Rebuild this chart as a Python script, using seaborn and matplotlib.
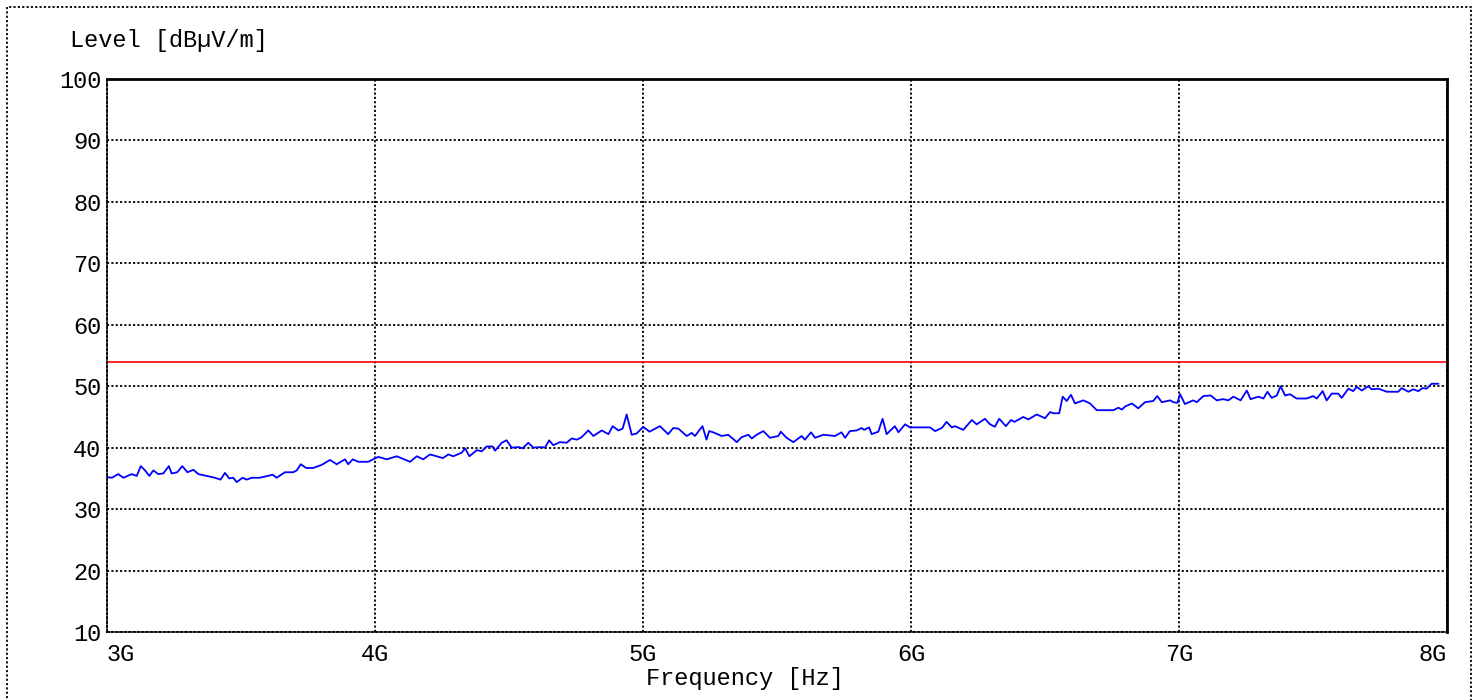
import matplotlib
matplotlib.use("Agg")
import matplotlib.pyplot as plt
import matplotlib.patches as patches
import seaborn as sns
import pandas as pd

# trace: frequency in GHz, level in dBuV/m
freq_ghz = [
    3.000, 3.018, 3.042, 3.061, 3.092, 3.111, 3.126, 3.142, 3.158, 3.173,
    3.191, 3.210, 3.231, 3.241, 3.262, 3.281, 3.300, 3.322, 3.341, 3.372,
    3.403, 3.424, 3.440, 3.456, 3.471, 3.484, 3.506, 3.521, 3.540, 3.568,
    3.590, 3.618, 3.633, 3.664, 3.695, 3.708, 3.723, 3.743, 3.770, 3.801,
    3.832, 3.857, 3.888, 3.900, 3.917, 3.938, 3.975, 4.012, 4.044, 4.081,
    4.131, 4.156, 4.180, 4.205, 4.230, 4.253, 4.274, 4.292, 4.324, 4.336,
    4.352, 4.380, 4.398, 4.417, 4.439, 4.448, 4.473, 4.491, 4.510, 4.535,
    4.551, 4.572, 4.591, 4.622, 4.634, 4.650, 4.665, 4.690, 4.715, 4.734,
    4.753, 4.771, 4.796, 4.815, 4.846, 4.871, 4.887, 4.908, 4.924, 4.939,
    4.958, 4.976, 5.001, 5.024, 5.063, 5.094, 5.113, 5.132, 5.163, 5.182,
    5.194, 5.206, 5.222, 5.237, 5.247, 5.262, 5.294, 5.318, 5.350, 5.368,
    5.393, 5.406, 5.424, 5.449, 5.474, 5.505, 5.514, 5.536, 5.561, 5.592,
    5.604, 5.627, 5.642, 5.673, 5.716, 5.741, 5.754, 5.772, 5.797, 5.816,
    5.825, 5.844, 5.853, 5.878, 5.894, 5.909, 5.940, 5.953, 5.978, 5.996,
    6.034, 6.071, 6.090, 6.115, 6.133, 6.152, 6.164, 6.195, 6.227, 6.245,
    6.276, 6.295, 6.313, 6.329, 6.354, 6.373, 6.386, 6.419, 6.438, 6.469,
    6.500, 6.519, 6.531, 6.553, 6.566, 6.581, 6.597, 6.612, 6.643, 6.668,
    6.693, 6.730, 6.755, 6.774, 6.787, 6.799, 6.824, 6.848, 6.873, 6.904,
    6.919, 6.936, 6.967, 6.979, 6.994, 7.004, 7.022, 7.053, 7.066, 7.091,
    7.118, 7.141, 7.165, 7.184, 7.203, 7.230, 7.253, 7.267, 7.296, 7.315,
    7.330, 7.346, 7.365, 7.379, 7.396, 7.414, 7.439, 7.476, 7.501, 7.514,
    7.536, 7.551, 7.570, 7.594, 7.607, 7.632, 7.650, 7.663, 7.682, 7.706,
    7.719, 7.744, 7.775, 7.818, 7.831, 7.856, 7.874, 7.893, 7.909, 7.924,
    7.943, 7.968,
]
level_dbuv = [
    35.2, 35.1, 35.7, 35.1, 35.7, 35.4, 37.0, 36.3, 35.4, 36.3,
    35.7, 35.8, 37.0, 35.8, 36.0, 37.0, 36.0, 36.4, 35.7, 35.4,
    35.1, 34.8, 35.9, 35.0, 35.1, 34.4, 35.1, 34.8, 35.1, 35.1,
    35.3, 35.6, 35.1, 36.0, 36.0, 36.3, 37.3, 36.7, 36.7, 37.2,
    38.0, 37.3, 38.1, 37.3, 38.1, 37.7, 37.7, 38.5, 38.1, 38.6,
    37.7, 38.6, 38.1, 38.9, 38.6, 38.3, 38.9, 38.6, 39.2, 39.9,
    38.6, 39.6, 39.4, 40.2, 40.2, 39.5, 40.8, 41.2, 40.0, 40.1,
    39.9, 40.8, 40.0, 40.1, 40.0, 41.2, 40.4, 40.9, 40.8, 41.5,
    41.3, 41.7, 42.8, 41.9, 42.8, 42.2, 43.5, 42.8, 43.1, 45.4,
    42.1, 42.3, 43.4, 42.6, 43.5, 42.2, 43.2, 43.1, 41.9, 42.4,
    41.9, 42.6, 43.5, 41.3, 42.7, 42.5, 41.9, 42.1, 40.9, 41.7,
    42.1, 41.5, 42.1, 42.7, 41.6, 41.9, 42.6, 41.6, 40.9, 41.9,
    41.3, 42.5, 41.6, 42.1, 41.9, 42.5, 41.6, 42.7, 42.8, 43.2,
    42.9, 43.3, 42.2, 42.6, 44.7, 42.2, 43.5, 42.5, 43.8, 43.3,
    43.3, 43.3, 42.7, 43.2, 44.2, 43.3, 43.5, 42.9, 44.5, 43.8,
    44.7, 43.8, 43.4, 44.7, 43.5, 44.5, 44.2, 45.0, 44.6, 45.4,
    44.8, 45.8, 45.6, 45.6, 48.3, 47.6, 48.6, 47.2, 47.7, 47.2,
    46.1, 46.1, 46.1, 46.5, 46.2, 46.7, 47.2, 46.4, 47.4, 47.6,
    48.4, 47.4, 47.7, 47.4, 47.3, 48.7, 47.1, 47.7, 47.4, 48.4,
    48.5, 47.7, 47.9, 47.7, 48.3, 47.7, 49.3, 47.9, 48.3, 48.0,
    49.1, 48.1, 48.5, 50.0, 48.5, 48.7, 48.0, 48.0, 48.4, 48.0,
    49.2, 47.7, 48.8, 48.8, 48.1, 49.6, 49.2, 49.9, 49.3, 50.0,
    49.5, 49.6, 49.1, 49.1, 49.7, 49.1, 49.5, 49.2, 49.7, 49.6,
    50.4, 50.4,
]

# limit line
limit_freq = [3.0, 8.0]
limit_level = [54.0, 54.0]

x_ticks = [3, 4, 5, 6, 7, 8]
x_tick_labels = ["3G", "4G", "5G", "6G", "7G", "8G"]
y_ticks = [10, 20, 30, 40, 50, 60, 70, 80, 90, 100]

sns.set_style("white")
plt.rcParams["font.family"] = ["Liberation Mono", "DejaVu Sans Mono"]
plt.rcParams["text.color"] = "black"
plt.rcParams["xtick.color"] = "black"
plt.rcParams["ytick.color"] = "black"
FS = 17

trace = pd.DataFrame({"freq": freq_ghz, "level": level_dbuv})
limit = pd.DataFrame({"freq": limit_freq, "level": limit_level})

fig = plt.figure(figsize=(14.78, 7.0), dpi=100)
ax = fig.add_axes([107 / 1478, 68 / 700, 1340 / 1478, 553 / 700])

sns.lineplot(data=limit, x="freq", y="level", color="#ff0000", linewidth=1.2, ax=ax)
sns.lineplot(data=trace, x="freq", y="level", color="#0000ff", linewidth=1.3, ax=ax)

ax.set_xlim(3, 8)
ax.set_ylim(10, 100)
ax.set_xticks(x_ticks)
ax.set_xticklabels(x_tick_labels, fontsize=FS)
ax.set_yticks(y_ticks)
ax.set_yticklabels([str(v) for v in y_ticks], fontsize=FS)
ax.tick_params(length=0, pad=4)
ax.tick_params(axis="x", pad=8)
labels = ax.get_xticklabels()
labels[0].set_horizontalalignment("left")
labels[-1].set_horizontalalignment("right")
ax.set_xlabel("")
ax.set_ylabel("")

ax.grid(True, color="black", linestyle=(0, (1.2, 1.2)), linewidth=1.3)

for side in ["top", "right"]:
    ax.spines[side].set_color("black")
    ax.spines[side].set_linewidth(2)
for side in ["left", "bottom"]:
    ax.spines[side].set_color("black")
    ax.spines[side].set_linewidth(1.3)
    ax.spines[side].set_linestyle((0, (1.2, 1.2)))

fig.text(70 / 1478, 1 - 40 / 700, "Level [dBµV/m]", fontsize=FS, ha="left", va="center")
fig.text(745 / 1478, 1 - 678 / 700, "Frequency [Hz]", fontsize=FS, ha="center", va="center")

# dotted frame around the whole picture
frame = patches.Rectangle((7 / 1478, -0.05), 1464 / 1478, 1.05 - 7 / 700,
                          transform=fig.transFigure, fill=False,
                          edgecolor="black", linewidth=1.3,
                          linestyle=(0, (1.2, 1.2)))
fig.patches.append(frame)

fig.savefig("out.png", dpi=100)
